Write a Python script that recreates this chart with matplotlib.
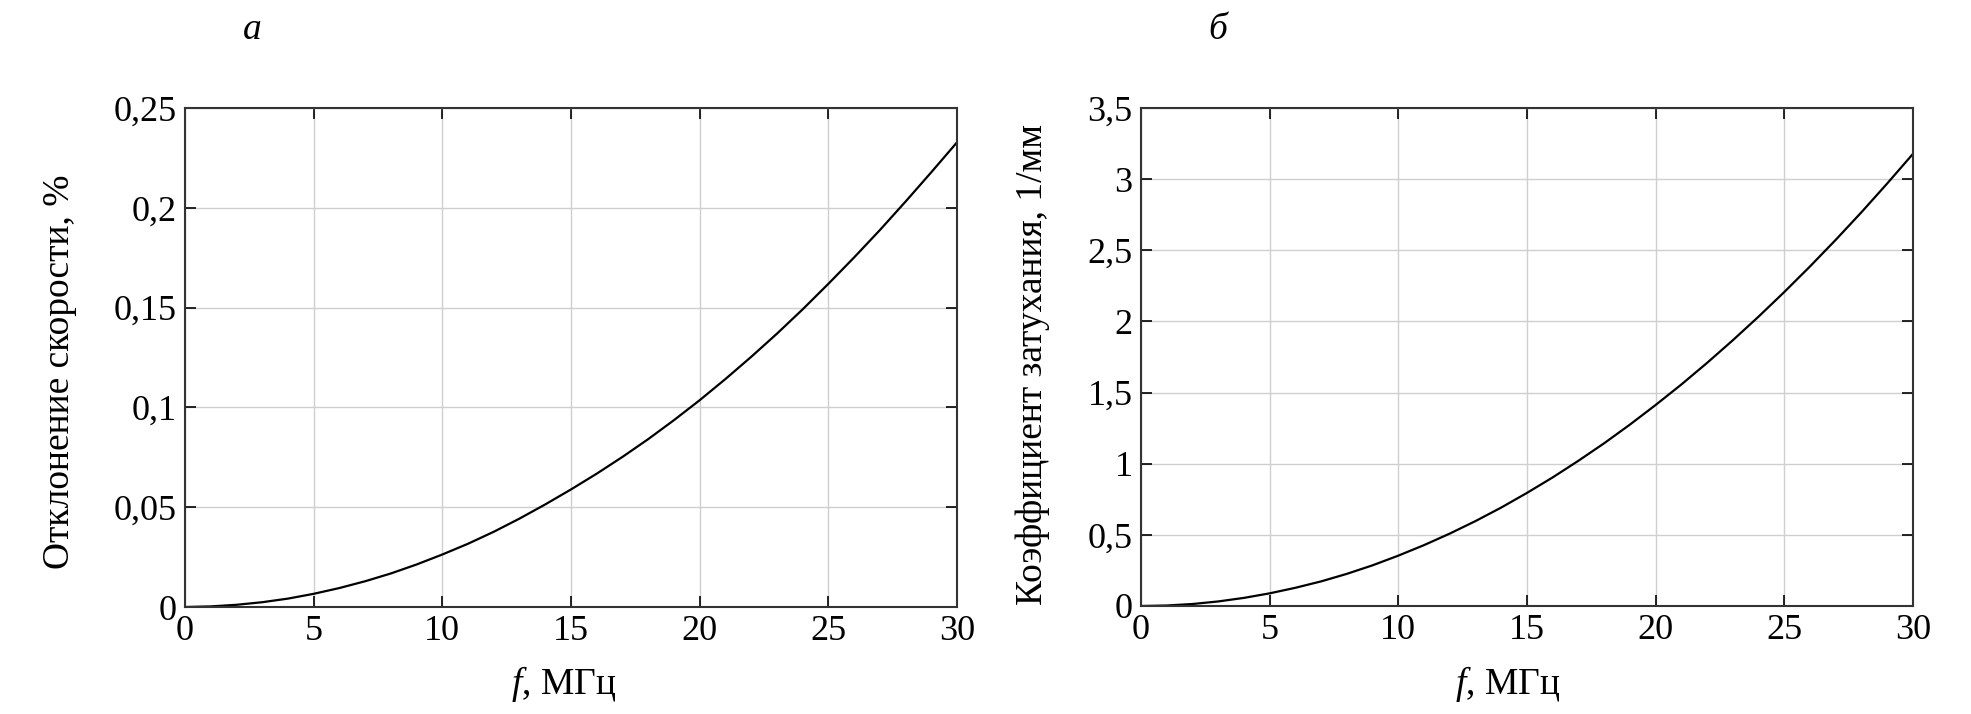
import matplotlib
matplotlib.use("Agg")
import matplotlib.pyplot as plt

plt.rcParams['font.family'] = ['Liberation Serif', 'DejaVu Serif']
plt.rcParams['mathtext.fontset'] = 'custom'
plt.rcParams['mathtext.it'] = 'Liberation Serif:italic'
plt.rcParams['mathtext.rm'] = 'Liberation Serif'

# Data
freq = [0, 1, 2, 3, 4, 5, 6, 7, 8, 9, 10, 11, 12, 13, 14, 15,
        16, 17, 18, 19, 20, 21, 22, 23, 24, 25, 26, 27, 28, 29, 30]
velocity_dev = [0, 0.0003, 0.0011, 0.0024, 0.0042, 0.0066, 0.0095, 0.0129, 0.0168,
                0.0213, 0.0263, 0.0317, 0.0377, 0.0443, 0.0514, 0.0589, 0.0668,
                0.0752, 0.0841, 0.0936, 0.1036, 0.1142, 0.1253, 0.1369, 0.1491,
                0.1619, 0.1751, 0.1888, 0.2031, 0.2178, 0.2328]
attenuation = [0, 0.0035, 0.014, 0.032, 0.057, 0.089, 0.128, 0.173, 0.226, 0.286,
               0.354, 0.428, 0.509, 0.597, 0.692, 0.795, 0.904, 1.021, 1.144, 1.275,
               1.413, 1.557, 1.709, 1.868, 2.034, 2.207, 2.387, 2.574, 2.768, 2.970,
               3.178]

x_ticks = [0, 5, 10, 15, 20, 25, 30]
x_ticklabels = ['0', '5', '10', '15', '20', '25', '30']
y1_ticks = [0, 0.05, 0.1, 0.15, 0.2, 0.25]
y1_ticklabels = ['0', '0,05', '0,1', '0,15', '0,2', '0,25']
y2_ticks = [0, 0.5, 1, 1.5, 2, 2.5, 3, 3.5]
y2_ticklabels = ['0', '0,5', '1', '1,5', '2', '2,5', '3', '3,5']

W, H = 1971, 714
fig = plt.figure(figsize=(W / 100, H / 100), dpi=100)

def make_ax(left, right, top, bottom):
    return fig.add_axes([left / W, 1 - bottom / H, (right - left) / W, (bottom - top) / H])

ax1 = make_ax(185, 957, 108, 607)
ax2 = make_ax(1141, 1913, 108, 606)

panels = [
    (ax1, velocity_dev, y1_ticks, y1_ticklabels, (0, 0.25), 'Отклонение скорости, %',
     (-0.162, 0.471), (0.49, -0.154)),
    (ax2, attenuation, y2_ticks, y2_ticklabels, (0, 3.5), 'Коэффициент затухания, 1/мм',
     (-0.140, 0.484), (0.475, -0.156)),
]

for ax, yv, yt, ytl, ylim, ylabel, ycoords, xcoords in panels:
    ax.plot(freq, yv, color='black', linewidth=1.6)
    ax.set_xlim(0, 30)
    ax.set_ylim(*ylim)
    ax.set_xticks(x_ticks)
    ax.set_xticklabels(x_ticklabels)
    ax.set_yticks(yt)
    ax.set_yticklabels(ytl)
    ax.grid(True, color='#cfcfcf', linewidth=1.0)
    ax.set_axisbelow(True)
    ax.tick_params(direction='in', length=8, width=1.2, top=True, right=True,
                   labelsize=26, pad=6, colors='black')
    for sp in ax.spines.values():
        sp.set_linewidth(1.5)
        sp.set_color('#333333')
    ax.set_xlabel(r'$f$, МГц', fontsize=27)
    ax.set_ylabel(ylabel, fontsize=27)
    ax.yaxis.set_label_coords(*ycoords)
    ax.yaxis.label.set_va('center')
    ax.xaxis.set_label_coords(*xcoords)
    ax.xaxis.label.set_va('center')

fig.text(252 / W, 1 - 30 / H, 'а', fontsize=27, style='italic', ha='center', va='center')
fig.text(1218 / W, 1 - 30 / H, 'б', fontsize=27, style='italic', ha='center', va='center')

fig.savefig('out.png', dpi=100)
